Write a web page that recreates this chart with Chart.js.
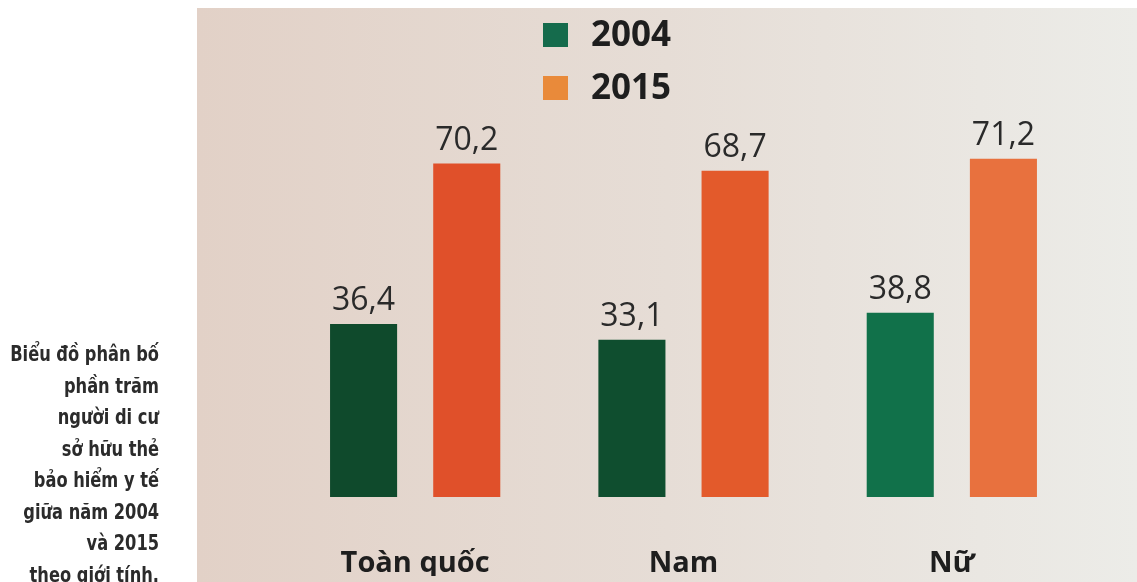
<!DOCTYPE html>
<html>
<head>
<meta charset="utf-8">
<script src="https://cdn.jsdelivr.net/npm/chart.js@4"></script>
<style>
  html, body { margin: 0; padding: 0; background: #ffffff; overflow: hidden; }
  #wrap { position: relative; width: 1137px; height: 582px; }
  #chart { position: absolute; left: 0; top: 0; }
  #caption {
    position: absolute; left: -41px; top: 339px; width: 200px;
    text-align: right; color: #2b2b2b; white-space: nowrap;
    font-family: "DejaVu Sans Condensed", "Liberation Sans Narrow", "Open Sans", sans-serif;
    font-stretch: condensed; font-weight: bold; font-size: 21px; line-height: 31.5px;
    transform: scaleX(0.86); transform-origin: right top;
  }
</style>
</head>
<body>
<div id="wrap">
  <canvas id="chart" width="1137" height="582"></canvas>
  <div id="caption">Biểu đồ phân bố<br>phần trăm<br>người di cư<br>sở hữu thẻ<br>bảo hiểm y tế<br>giữa năm 2004<br>và 2015<br>theo giới tính.</div>
</div>
<script>
// categories and values
const categories = ['Toàn quốc', 'Nam', 'Nữ'];
const years = ['2004', '2015'];
const values2004 = [36.4, 33.1, 38.8];
const values2015 = [70.2, 68.7, 71.2];

const greenBars = ['#0f4a2c', '#0f4e2f', '#11714a'];
const orangeBars = ['#e0502a', '#e35a2b', '#e8713e'];
const legendColors = ['#156b4c', '#e98a3a'];

// panel background behind the chart
const panelBg = {
    id: 'panelBg',
    beforeDraw(chart) {
        const ctx = chart.ctx;
        const g = ctx.createLinearGradient(197, 0, 1137, 0);
        g.addColorStop(0, '#e2d1c7');
        g.addColorStop(0.5, '#e6ddd6');
        g.addColorStop(1, '#ecece8');
        ctx.save();
        ctx.fillStyle = g;
        ctx.fillRect(197, 8, 940, 574);
        ctx.restore();
    }
};

// value labels above each bar, with comma decimals
const valueLabels = {
    id: 'valueLabels',
    afterDatasetsDraw(chart) {
        const ctx = chart.ctx;
        ctx.save();
        ctx.font = '32px "Open Sans", sans-serif';
        ctx.fillStyle = '#2a2a2a';
        ctx.textAlign = 'center';
        ctx.textBaseline = 'bottom';
        chart.data.datasets.forEach((ds, i) => {
            chart.getDatasetMeta(i).data.forEach((bar, j) => {
                const txt = ds.data[j].toFixed(1).replace('.', ',');
                ctx.fillText(txt, bar.x, bar.y - 7);
            });
        });
        ctx.restore();
    }
};

// stacked legend near the top
const stackedLegend = {
    id: 'stackedLegend',
    afterDraw(chart) {
        const ctx = chart.ctx;
        ctx.save();
        ctx.font = 'bold 35px "Open Sans", sans-serif';
        ctx.textBaseline = 'middle';
        chart.data.datasets.forEach((ds, i) => {
            const cy = 35 + i * 53;
            ctx.fillStyle = legendColors[i];
            ctx.fillRect(543, cy - 12, 25, 24);
            ctx.fillStyle = '#1e1e1e';
            ctx.fillText(ds.label, 591, cy + 1);
        });
        ctx.restore();
    }
};

new Chart(document.getElementById('chart'), {
    type: 'bar',
    data: {
        labels: categories,
        datasets: [
            { label: years[0], data: values2004, backgroundColor: greenBars },
            { label: years[1], data: values2015, backgroundColor: orangeBars }
        ]
    },
    options: {
        responsive: false,
        animation: false,
        categoryPercentage: 0.769,
        barPercentage: 0.65,
        layout: { padding: { left: 281, right: 51, top: 117, bottom: 6 } },
        plugins: {
            legend: { display: false },
            tooltip: { enabled: false }
        },
        scales: {
            x: {
                grid: { display: false, drawTicks: false },
                border: { display: false },
                afterFit(scale) { scale.height = 79; },
                ticks: {
                    color: '#1e1e1e',
                    padding: 49,
                    font: { family: '"Open Sans", sans-serif', size: 29, weight: 'bold' }
                }
            },
            y: {
                display: false,
                min: 0,
                max: 80
            }
        }
    },
    plugins: [panelBg, valueLabels, stackedLegend]
});
</script>
</body>
</html>
